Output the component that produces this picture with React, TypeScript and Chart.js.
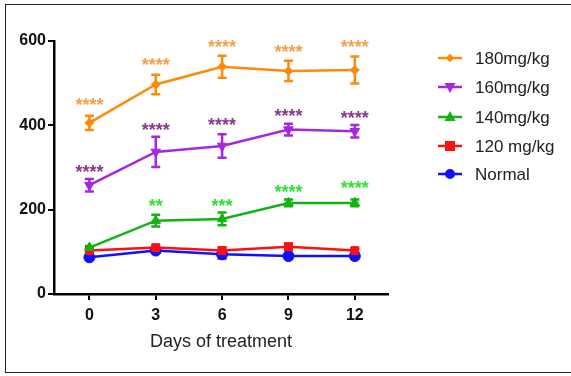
import React, { useEffect, useRef } from 'react';
import { Chart, registerables } from 'chart.js';
Chart.register(...registerables);

const days = [0, 3, 6, 9, 12];
const seriesNames = ['180mg/kg', '160mg/kg', '140mg/kg', '120 mg/kg', 'Normal'];
const mean180 = [406, 497, 539, 529, 531];
const err180 = [17, 23, 26, 24, 32];
const mean160 = [258, 337, 351, 390, 386];
const err160 = [15, 36, 28, 14, 15];
const mean140 = [110, 174, 178, 216, 216];
const err140 = [4, 14, 15, 8, 8];
const mean120 = [103, 110, 103, 112, 103];
const err120 = [5, 5, 8, 8, 5];
const meanNormal = [87, 103, 94, 90, 90];
const errNormal = [5, 5, 10, 5, 5];
const stars180 = ['****', '****', '****', '****', '****'];
const starPos180 = [458, 554, 596, 583, 596];
const stars160 = ['****', '****', '****', '****', '****'];
const starPos160 = [300, 398, 410, 433, 428];
const stars140 = ['', '**', '***', '****', '****'];
const starPos140 = [0, 218, 218, 253, 262];
const yTicks = [0, 200, 400, 600];
const xTitle = 'Days of treatment';

const lineColors = ['#ff8a0a', '#a826e0', '#12b312', '#ff1010', '#1010ff'];
const starColors = ['#f5a050', '#8a3a8c', '#33e033'];
const markers = ['rectRot', 'triangleDown', 'triangle', 'rect', 'circle'];

const means = [mean180, mean160, mean140, mean120, meanNormal];
const errs = [err180, err160, err140, err120, errNormal];
const starTexts = [stars180, stars160, stars140];
const starPositions = [starPos180, starPos160, starPos140];

function drawMarker(ctx: CanvasRenderingContext2D, kind: string, x: number, y: number, r: number) {
  ctx.beginPath();
  if (kind === 'circle') {
    ctx.arc(x, y, r, 0, Math.PI * 2);
  } else if (kind === 'rect') {
    ctx.rect(x - r, y - r, 2 * r, 2 * r);
  } else if (kind === 'rectRot') {
    ctx.moveTo(x, y - r * 1.2);
    ctx.lineTo(x + r * 1.2, y);
    ctx.lineTo(x, y + r * 1.2);
    ctx.lineTo(x - r * 1.2, y);
    ctx.closePath();
  } else if (kind === 'triangle') {
    ctx.moveTo(x, y - r * 1.2);
    ctx.lineTo(x + r * 1.1, y + r * 0.8);
    ctx.lineTo(x - r * 1.1, y + r * 0.8);
    ctx.closePath();
  } else {
    ctx.moveTo(x, y + r * 1.2);
    ctx.lineTo(x + r * 1.1, y - r * 0.8);
    ctx.lineTo(x - r * 1.1, y - r * 0.8);
    ctx.closePath();
  }
  ctx.fill();
}

const overlayPlugin = {
  id: 'overlay',
  beforeDatasetsDraw(chart: any) {
    const ctx = chart.ctx as CanvasRenderingContext2D;
    const xs = chart.scales.x;
    const ys = chart.scales.y;
    ctx.save();
    for (let i = means.length - 1; i >= 0; i--) {
      ctx.strokeStyle = lineColors[i];
      ctx.lineWidth = 2.5;
      for (let j = 0; j < days.length; j++) {
        const x = xs.getPixelForValue(days[j]);
        const t = ys.getPixelForValue(means[i][j] + errs[i][j]);
        const b = ys.getPixelForValue(means[i][j] - errs[i][j]);
        ctx.beginPath();
        ctx.moveTo(x, t);
        ctx.lineTo(x, b);
        ctx.moveTo(x - 4.5, t);
        ctx.lineTo(x + 4.5, t);
        ctx.moveTo(x - 4.5, b);
        ctx.lineTo(x + 4.5, b);
        ctx.stroke();
      }
    }
    ctx.restore();
  },
  afterDraw(chart: any) {
    const ctx = chart.ctx as CanvasRenderingContext2D;
    const xs = chart.scales.x;
    const ys = chart.scales.y;
    ctx.save();
    // significance stars
    const fs = 18;
    ctx.font = 'bold ' + fs + 'px Arial, "Liberation Sans", sans-serif';
    ctx.textAlign = 'center';
    ctx.textBaseline = 'alphabetic';
    for (let i = 0; i < starTexts.length; i++) {
      ctx.fillStyle = starColors[i];
      for (let j = 0; j < days.length; j++) {
        const s = starTexts[i][j];
        if (!s) continue;
        const x = xs.getPixelForValue(days[j]);
        const y = ys.getPixelForValue(starPositions[i][j]);
        ctx.fillText(s, x, y + 0.57 * fs);
      }
    }
    // axis title
    ctx.fillStyle = '#222';
    ctx.font = '18px Arial, "Liberation Sans", sans-serif';
    ctx.textBaseline = 'middle';
    ctx.textAlign = 'center';
    ctx.fillText(xTitle, (chart.chartArea.left + chart.chartArea.right) / 2, 342);
    // legend
    const rows = [58, 87, 117, 146, 174];
    ctx.font = '17px Arial, "Liberation Sans", sans-serif';
    ctx.textAlign = 'left';
    for (let i = 0; i < seriesNames.length; i++) {
      const y = rows[i];
      ctx.strokeStyle = lineColors[i];
      ctx.fillStyle = lineColors[i];
      ctx.lineWidth = 2.5;
      ctx.beginPath();
      ctx.moveTo(438, y);
      ctx.lineTo(462, y);
      ctx.stroke();
      drawMarker(ctx, markers[i], 450, y, i === 0 ? 3.5 : 5);
      ctx.fillStyle = '#222';
      ctx.fillText(seriesNames[i], 475, y + 1);
    }
    ctx.restore();
  },
};

export default function App() {
  const ref = useRef<HTMLCanvasElement | null>(null);
  useEffect(() => {
    if (!ref.current) return;
    const datasets = means.map((m, i) => ({
      label: seriesNames[i],
      data: days.map((d, j) => ({ x: d, y: m[j] })),
      borderColor: lineColors[i],
      backgroundColor: lineColors[i],
      borderWidth: 2.5,
      pointStyle: markers[i] === 'triangleDown' ? 'triangle' : markers[i],
      pointRotation: markers[i] === 'triangleDown' ? 180 : 0,
      pointRadius: i === 0 ? 4.5 : 5.5,
      pointBorderWidth: 1,
      tension: 0,
      clip: false as any,
    }));
    const chart = new Chart(ref.current, {
      type: 'line',
      data: { datasets },
      options: {
        responsive: false,
        animation: false,
        layout: { padding: { left: 0, top: 41, right: 183, bottom: 0 } },
        plugins: { legend: { display: false }, tooltip: { enabled: false } },
        scales: {
          x: {
            type: 'linear',
            min: -1.6,
            max: 13.5,
            afterBuildTicks: (s: any) => {
              s.ticks = days.map((v) => ({ value: v }));
            },
            afterFit: (s: any) => {
              s.height = 82;
            },
            border: { display: true, color: '#000', width: 2.5 },
            grid: { display: true, drawOnChartArea: false, tickLength: 6, color: '#000', lineWidth: 2 },
            ticks: {
              color: '#111',
              padding: 6,
              font: { family: 'Arial, "Liberation Sans", sans-serif', size: 16, weight: 'bold' },
              maxRotation: 0,
            },
          },
          y: {
            type: 'linear',
            min: 0,
            max: 600,
            afterBuildTicks: (s: any) => {
              s.ticks = yTicks.map((v) => ({ value: v }));
            },
            afterFit: (s: any) => {
              s.width = 54;
            },
            border: { display: true, color: '#000', width: 2.5 },
            grid: { display: true, drawOnChartArea: false, tickLength: 6, color: '#000', lineWidth: 2 },
            ticks: {
              color: '#111',
              padding: 2,
              font: { family: 'Arial, "Liberation Sans", sans-serif', size: 16, weight: 'bold' },
            },
          },
        },
      },
      plugins: [overlayPlugin],
    } as any);
    return () => chart.destroy();
  }, []);
  return (
    <div style={{ position: 'fixed', left: 0, top: 0, width: 571, height: 376, background: '#fff', overflow: 'hidden' }}>
      <div
        style={{
          position: 'absolute',
          left: 5,
          top: 4,
          width: 572,
          height: 369,
          border: '1.5px solid #222',
          boxSizing: 'border-box',
        }}
      />
      <canvas ref={ref} width={571} height={376} style={{ position: 'absolute', left: 0, top: 0, width: 571, height: 376 }} />
    </div>
  );
}
